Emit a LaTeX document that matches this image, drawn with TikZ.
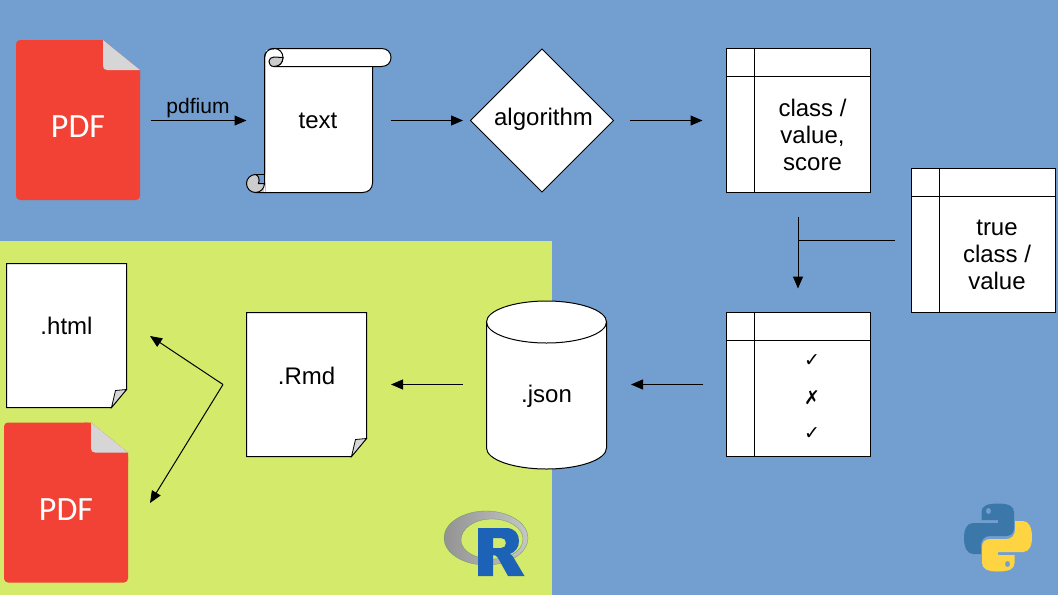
\documentclass[tikz,border=0pt]{standalone}
\usepackage{fontspec}
\setmainfont{Liberation Sans}
\newfontfamily\pdffont{Carlito}
\newfontfamily\symfont{DejaVu Sans}
\usetikzlibrary{arrows.meta,shapes.geometric,calc}
\definecolor{bgblue}{HTML}{729FCF}
\definecolor{bggreen}{HTML}{D4EA6B}
\definecolor{pdfred}{HTML}{F24236}
\definecolor{foldgrey}{HTML}{D6D6D6}
\definecolor{curlgrey}{HTML}{CCCCCC}
\definecolor{rblue}{HTML}{1C63B7}
\definecolor{pyblue}{HTML}{3B77A8}
\definecolor{pyyellow}{HTML}{FFD443}
\tikzset{
  ink/.style={draw=black,line width=1pt,line join=miter},
  paper/.style={ink,fill=white},
  boxnode/.style={inner sep=0pt,outer sep=0pt,minimum width=#1,rectangle},
  big/.style={font=\fontsize{24}{27}\selectfont,align=center,inner sep=0pt},
  pdftext/.style={text=white,font=\pdffont\fontsize{34}{38}\selectfont,inner sep=0pt},
  arrowline/.style={draw=black,line width=1pt,-{Triangle[length=12pt,width=10pt]}},
  plainline/.style={draw=black,line width=1pt},
  marksym/.style={font=\symfont\fontsize{19}{22}\selectfont,inner sep=0pt},
}
% PDF icon: north-west corner at #2,#3
\newcommand{\pdficon}[3]{%
  \begin{scope}[shift={(#2,#3)}]
    \path[fill=pdfred,rounded corners=4pt] (0,0) -- (87,0) -- (87,30) -- (124,30) -- (124,160) -- (0,160) -- cycle;
    \path[fill=pdfred] (80,0) -- (87,0) -- (124,30) -- (124,40) -- (80,40) -- cycle;
    \path[fill=foldgrey] (87,0) -- (124,30) -- (91,30) .. controls (88.5,30) and (87,28.5) .. (87,26) -- cycle;
    \node[boxnode=124pt,minimum height=160pt] (#1) at (62,80) {};
  \end{scope}}
% Sheet with folded corner: north-west corner at #2,#3
\newcommand{\sheet}[3]{%
  \node[boxnode=120pt,minimum height=144pt] (#1) at (#2+60,#3+72) {};
  \begin{scope}[shift={(#2,#3)}]
    \path[paper] (0,0) -- (120,0) -- (120,126) -- (105,144) -- (0,144) -- cycle;
    \path[ink,fill=foldgrey,line width=0.8pt] (120,126) -- (105,144) -- (109,127) -- cycle;
  \end{scope}}
% Table with header row and column
\newcommand{\tablebox}[3]{%
  \node[boxnode=144pt,minimum height=144pt,paper] (#1) at (#2+72,#3+72) {};
  \draw[ink] (#2+28,#3) -- (#2+28,#3+144);
  \draw[ink] (#2,#3+28) -- (#2+144,#3+28);}
\begin{document}
\begin{tikzpicture}[x=1pt,y=-1pt]
\useasboundingbox (0,0) rectangle (1058,595);
\fill[bgblue] (0,0) rectangle (1058,595);
\fill[bggreen] (0,241) rectangle (552,595);

% PDF icons
\pdficon{pdfa}{16}{40}
\node[pdftext] (pdfalabel) at (78,126.5) {PDF};
\pdficon{pdfb}{4}{422.5}
\node[pdftext] (pdfblabel) at (66,509.5) {PDF};

% Scroll
\node[boxnode=108pt,minimum height=144pt] (scroll) at (318.5,120.5) {};
\path[paper] (274,48.5) -- (381.5,48.5) .. controls (387.5,48.5) and (391,52.5) .. (391,57.5)
  .. controls (391,62.5) and (387.5,66.5) .. (381.5,66.5) -- (274,66.5) -- cycle;
\path[paper] (274,48.5) .. controls (268.5,48.5) and (264.5,52.5) .. (264.5,58) -- (264.5,192.5)
  -- (362.5,192.5) .. controls (368.5,192.5) and (372.5,188.5) .. (372.5,183) -- (372.5,66.5) -- (274,66.5) -- cycle;
\path[draw=none,fill=white] (266,50) rectangle (282,66);
\path[ink,fill=white] (274,48.5) .. controls (279.5,48.5) and (283,52.5) .. (283,57.5)
  .. controls (283,62.5) and (279.5,66.5) .. (274,66.5);
\path[ink,fill=curlgrey] (274,66.5) .. controls (270.5,66.5) and (269,64) .. (269,61.5)
  .. controls (269,59) and (271,57) .. (274,57) -- (283,57.5)
  .. controls (283,62.5) and (279.5,66.5) .. (274,66.5) -- cycle;
\path[ink] (274,48.5) .. controls (268.5,48.5) and (264.5,52.5) .. (264.5,58) -- (264.5,174);
\path[ink,fill=curlgrey] (255.5,174.5) .. controls (250.5,174.5) and (246.5,178.5) .. (246.5,183.5)
  .. controls (246.5,188.5) and (250.5,192.5) .. (255.5,192.5) -- (264.5,192.5) -- (264.5,183.5)
  -- (258.5,183.5) .. controls (260,179) and (258.5,175.5) .. (255.5,174.5) -- cycle;
\path[draw=none,fill=curlgrey] (258,184) rectangle (264,192);
\path[draw=none,fill=white] (264,184) rectangle (264.5,192);
\draw[ink] (255.5,174.5) -- (264.5,174.5);
\draw[ink] (255.5,192.5) .. controls (260.5,192.5) and (264.5,188.5) .. (264.5,183.5) -- (258,183.5);
\node[big] (scrolltext) at (318,120.5) {text};

% Diamond
\node[diamond,draw=black,fill=white,line width=1pt,minimum width=143pt,minimum height=143pt,inner sep=0pt,outer sep=0pt,aspect=1] (algo) at (542,120.5) {};
\node[big] (algotext) at (543.5,119.5) {algorithm};

% Tables
\tablebox{tscore}{726.5}{48.5}
\node[big] (tscoretext) at (812.5,134.5) {class /\\value,\\score};
\tablebox{ttrue}{911.5}{168.5}
\node[big] (ttruetext) at (997,254.5) {true\\class /\\value};
\tablebox{tcheck}{726.5}{312.5}
\node[marksym] (marka) at (812,361) {✓};
\node[marksym] (markb) at (812,397.5) {✗};
\node[marksym] (markc) at (812,434) {✓};

% Cylinder
\node[boxnode=120pt,minimum height=167pt] (json) at (546.5,384.5) {};
\path[paper] (486.5,322) -- (486.5,448) .. controls (486.5,459.6) and (513.4,469) .. (546.5,469)
  .. controls (579.6,469) and (606.5,459.6) .. (606.5,448) -- (606.5,322)
  .. controls (606.5,310.4) and (579.6,301) .. (546.5,301) .. controls (513.4,301) and (486.5,310.4) .. (486.5,322) -- cycle;
\path[ink] (486.5,322) .. controls (486.5,333.6) and (513.4,343) .. (546.5,343)
  .. controls (579.6,343) and (606.5,333.6) .. (606.5,322);
\node[big] (jsontext) at (546.5,396) {.json};

% Sheets
\sheet{html}{6.5}{263.5}
\node[big] (htmllabel) at (66.5,326) {.html};
\sheet{rmd}{246.5}{312.5}
\node[big] (rmdlabel) at (306.5,376) {.Rmd};

% Connectors
\draw[arrowline,shorten <=11pt,shorten >=18pt] (pdfa.east |- scroll.west) -- (scroll.west);
\node[font=\fontsize{21}{24}\selectfont,inner sep=0pt] (pdfium) at (198,108.5) {pdfium};
\draw[arrowline,shorten <=18pt,shorten >=7.5pt] (scroll.east) -- (algo.west);
\draw[arrowline,shorten <=16.5pt,shorten >=24pt] (algo.east) -- (tscore.west);
\draw[arrowline,shorten <=24pt,shorten >=24pt] (798,192.5) -- (798,312.5);
\draw[plainline,shorten <=17pt] (ttrue.west |- 0,240.5) -- (798,240.5);
\draw[arrowline,shorten <=23.5pt,shorten >=24.5pt] (tcheck.west) -- (json.east);
\draw[arrowline,shorten <=23.5pt,shorten >=24.5pt] (json.west) -- (rmd.east);
\coordinate (fork) at (223,384.5);
\coordinate (tohtml) at (150,336);
\coordinate (topdf) at (150,503);
\draw[arrowline] (fork) -- (tohtml);
\draw[arrowline] (fork) -- (topdf);

% R logo
\path[even odd rule,left color=gray!85,right color=gray!45,draw=gray!80!green,line width=0.3pt]
  (444,538) .. controls (444,523) and (463,511) .. (486,511) .. controls (509,511) and (528,523) .. (528,538)
  .. controls (528,553) and (509,565) .. (486,565) .. controls (463,565) and (444,553) .. (444,538) -- cycle
  (461,540) .. controls (461,528) and (475,519) .. (492,519) .. controls (509,519) and (523,528) .. (523,539)
  .. controls (523,551) and (509,559) .. (492,559) .. controls (475,559) and (461,551) .. (461,540) -- cycle;
\path[fill=rblue,even odd rule] (478,528) -- (506,528) .. controls (515,528) and (519,534) .. (519,541)
  .. controls (519,548) and (515,552) .. (510,554) .. controls (513,556) and (514,558) .. (515,560) -- (524.5,576)
  -- (508,576) -- (498,558) .. controls (497,556) and (495,555) .. (493,555) -- (493,576) -- (478,576) -- cycle
  (493,538) -- (493,548) -- (501,548) .. controls (504,548) and (506,546) .. (506,543)
  .. controls (506,540) and (504,538) .. (501,538) -- cycle;

% Python logo
\path[fill=pyblue,even odd rule] (998,503.5) .. controls (987,503.5) and (981.5,506) .. (981.5,512) -- (981.5,520)
  -- (998,520) -- (998,523) -- (973,523) .. controls (967,523) and (964,529) .. (964,538)
  .. controls (964,547) and (967,554) .. (973,554) -- (981,554) -- (981,546)
  .. controls (981,540) and (984,536) .. (990,536) -- (1006,536) .. controls (1011,536) and (1014,533) .. (1014,528)
  -- (1014,512) .. controls (1014,506) and (1008,503.5) .. (998,503.5) -- cycle
  (991,511) .. controls (991,513) and (990,514) .. (988.5,514) .. controls (987,514) and (986,513) .. (986,511)
  .. controls (986,509) and (987,508) .. (988.5,508) .. controls (990,508) and (991,509) .. (991,511) -- cycle;
\path[fill=pyyellow,even odd rule] (998,571.5) .. controls (1009,571.5) and (1014.5,569) .. (1014.5,563) -- (1014.5,555)
  -- (998,555) -- (998,552) -- (1023,552) .. controls (1029,552) and (1032,546) .. (1032,537)
  .. controls (1032,528) and (1029,521) .. (1023,521) -- (1015,521) -- (1015,529)
  .. controls (1015,535) and (1012,539) .. (1006,539) -- (990,539) .. controls (985,539) and (982,542) .. (982,547)
  -- (982,563) .. controls (982,569) and (988,571.5) .. (998,571.5) -- cycle
  (1005,564) .. controls (1005,562) and (1006,561) .. (1007.5,561) .. controls (1009,561) and (1010,562) .. (1010,564)
  .. controls (1010,566) and (1009,567) .. (1007.5,567) .. controls (1006,567) and (1005,566) .. (1005,564) -- cycle;
\end{tikzpicture}
\end{document}
